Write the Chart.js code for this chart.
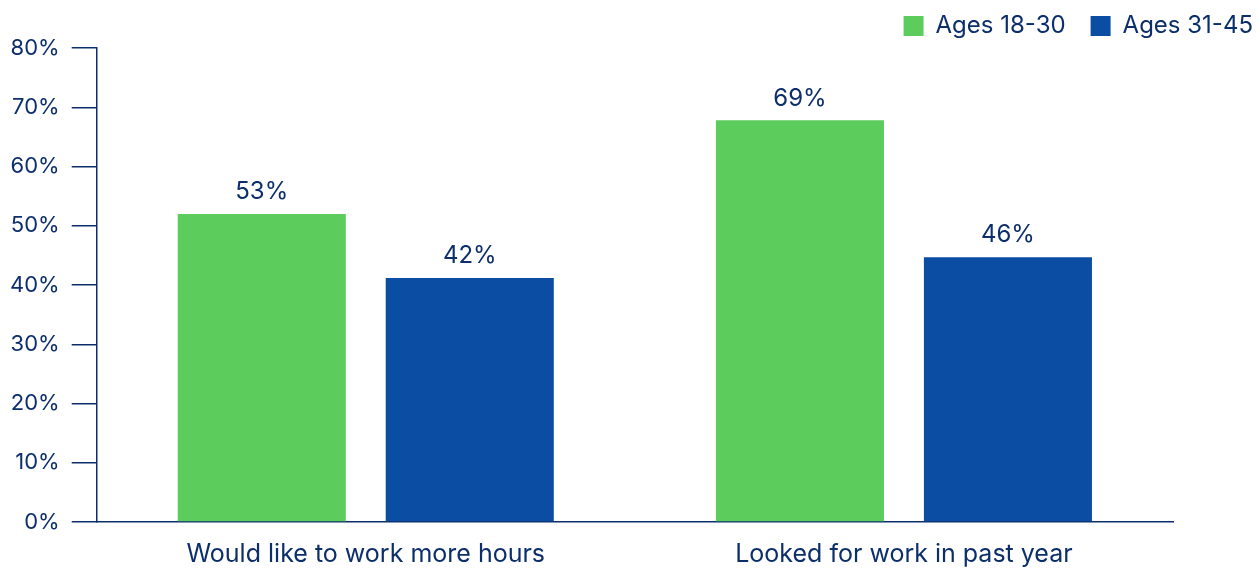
<!DOCTYPE html>
<html>
<head>
<meta charset="utf-8">
<script src="https://cdn.jsdelivr.net/npm/chart.js@4.4.1/dist/chart.umd.min.js"></script>
<style>
  html, body { margin: 0; padding: 0; background: #ffffff; }
  #wrap { width: 1259px; height: 568px; }
</style>
</head>
<body>
<div id="wrap"><canvas id="barChart"></canvas></div>
<script>
// categorias y series
const categories = ["Would like to work more hours", "Looked for work in past year"];
const youngValues = [52.0, 67.8];
const olderValues = [41.2, 44.7];
// etiquetas tal como aparecen sobre las barras
const youngLabels = ["53%", "69%"];
const olderLabels = ["42%", "46%"];
const yTicks = [0, 10, 20, 30, 40, 50, 60, 70, 80];

const navy = "#0c2f6b";
const fontFamily = "Inter, 'Noto Sans', sans-serif";

// dibuja el valor encima de cada barra
const valueLabels = {
    id: "valueLabels",
    afterDatasetsDraw(chart) {
        const ctx = chart.ctx;
        ctx.save();
        ctx.fillStyle = navy;
        ctx.font = "24px " + fontFamily;
        ctx.textAlign = "center";
        ctx.textBaseline = "bottom";
        chart.data.datasets.forEach((ds, i) => {
            chart.getDatasetMeta(i).data.forEach((bar, j) => {
                ctx.fillText(ds.valueText[j], bar.x, bar.y - 10);
            });
        });
        ctx.restore();
    },
};

const ctx = document.getElementById("barChart").getContext("2d");
const chart = new Chart(ctx, {
    type: "bar",
    data: {
        labels: categories,
        datasets: [
            {
                label: "Ages 18-30",
                data: youngValues,
                valueText: youngLabels,
                backgroundColor: "#5ccd5c",
                categoryPercentage: 0.773,
                barPercentage: 0.808,
            },
            {
                label: "Ages 31-45",
                data: olderValues,
                valueText: olderLabels,
                backgroundColor: "#0b4da2",
                categoryPercentage: 0.773,
                barPercentage: 0.808,
            },
        ],
    },
    options: {
        responsive: true,
        maintainAspectRatio: false,
        animation: false,
        layout: { padding: { left: -2, right: -19, top: -11, bottom: -18 } },
        plugins: {
            legend: {
                position: "top",
                align: "end",
                labels: {
                    color: navy,
                    font: { family: fontFamily, size: 24 },
                    boxWidth: 20,
                    boxHeight: 20,
                    padding: 25,
                },
            },
            tooltip: { enabled: false },
        },
        scales: {
            x: {
                grid: { display: false, drawTicks: false },
                border: { display: true, color: navy, width: 1.5 },
                ticks: {
                    color: navy,
                    font: { family: fontFamily, size: 25 },
                    padding: 17,
                },
            },
            y: {
                min: 0,
                max: 80,
                afterBuildTicks: (axis) => {
                    axis.ticks = yTicks.map((v) => ({ value: v }));
                },
                grid: {
                    drawOnChartArea: false,
                    drawTicks: true,
                    tickLength: 25,
                    color: navy,
                    lineWidth: 1.5,
                },
                border: { display: true, color: navy, width: 1.5 },
                ticks: {
                    color: navy,
                    font: { family: fontFamily, size: 22 },
                    padding: 12,
                    callback: (v) => v + "%",
                },
            },
            // margen vacío a la derecha del área de trazado
            spacer: {
                position: "right",
                grid: { display: false },
                border: { display: false },
                ticks: { display: false },
                afterFit: (scale) => {
                    scale.width = 105;
                },
            },
        },
    },
    plugins: [valueLabels],
});
</script>
</body>
</html>
